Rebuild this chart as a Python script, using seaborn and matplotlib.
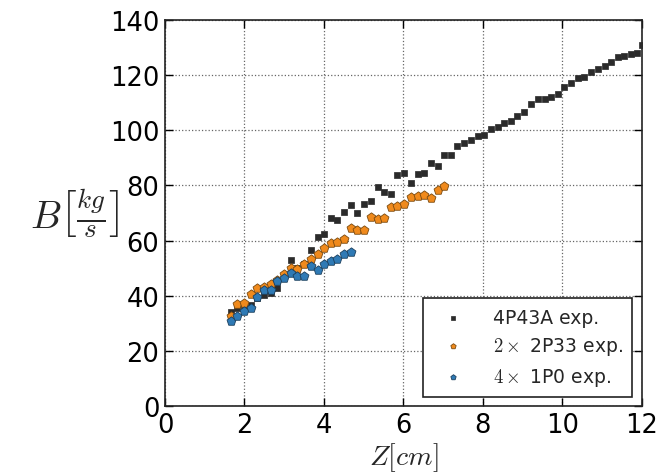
import matplotlib
matplotlib.use("Agg")
import matplotlib.pyplot as plt
import seaborn as sns
import pandas as pd

# ---- data ----
z_4p43a = [1.65, 1.82, 1.99, 2.16, 2.32, 2.49, 2.66, 2.83, 2.99, 3.16, 3.33, 3.50,
           3.67, 3.84, 4.00, 4.17, 4.34, 4.51, 4.67, 4.84, 5.01, 5.18, 5.35, 5.51,
           5.68, 5.85, 6.02, 6.19, 6.36, 6.52, 6.69, 6.86, 7.03, 7.19, 7.36, 7.53,
           7.70, 7.87, 8.03, 8.20, 8.37, 8.54, 8.71, 8.87, 9.04, 9.21, 9.38, 9.55,
           9.71, 9.88, 10.05, 10.22, 10.39, 10.55, 10.72, 10.89, 11.06, 11.23,
           11.39, 11.56, 11.73, 11.88, 12.0]
b_4p43a = [34.0, 35.5, 36.0, 36.5, 39.0, 40.1, 41.0, 42.9, 47.0, 53.0, 50.0, 51.5,
           56.5, 61.3, 62.4, 68.1, 67.4, 70.5, 72.8, 70.0, 73.1, 74.3, 79.6, 77.6,
           76.8, 83.6, 84.6, 81.0, 84.1, 84.6, 88.0, 87.0, 91.2, 91.2, 94.3, 95.3,
           96.3, 97.9, 98.4, 100.4, 101.3, 102.8, 103.5, 105.0, 106.7, 109.6, 111.5,
           111.5, 112.0, 113.0, 115.6, 117.1, 119.0, 119.5, 121.0, 122.2, 123.4,
           124.8, 126.5, 127.0, 127.7, 128.0, 130.9]

z_2p33 = [1.65, 1.82, 1.99, 2.16, 2.32, 2.49, 2.66, 2.83, 2.99, 3.16, 3.33, 3.50,
          3.67, 3.84, 4.00, 4.17, 4.34, 4.51, 4.67, 4.84, 5.01, 5.18, 5.35, 5.51,
          5.68, 5.85, 6.02, 6.19, 6.36, 6.52, 6.69, 6.86, 7.03]
b_2p33 = [32.6, 37.1, 37.3, 40.5, 42.9, 43.2, 44.1, 45.6, 47.8, 49.9, 49.7, 51.4,
          53.3, 55.3, 57.2, 59.2, 59.4, 60.6, 64.5, 64.0, 63.8, 68.6, 67.9, 68.1,
          72.0, 72.5, 73.2, 75.9, 76.1, 76.6, 75.6, 78.5, 79.7]

z_1p0 = [1.65, 1.82, 1.99, 2.16, 2.32, 2.49, 2.66, 2.83, 2.99, 3.16, 3.33, 3.50,
         3.67, 3.84, 4.00, 4.17, 4.34, 4.51, 4.67]
b_1p0 = [31.0, 32.7, 34.4, 35.4, 39.5, 41.9, 41.9, 45.3, 46.3, 48.1, 47.2, 47.3,
         50.9, 49.2, 51.6, 52.6, 53.3, 55.3, 55.7]

labels = ["4P43A exp.", r"$2\times$ 2P33 exp.", r"$4\times$ 1P0 exp."]
x_ticks = [0, 2, 4, 6, 8, 10, 12]
y_ticks = [0, 20, 40, 60, 80, 100, 120, 140]

df = pd.concat([
    pd.DataFrame({"Z": z_4p43a, "B": b_4p43a, "series": labels[0]}),
    pd.DataFrame({"Z": z_2p33, "B": b_2p33, "series": labels[1]}),
    pd.DataFrame({"Z": z_1p0, "B": b_1p0, "series": labels[2]}),
])

sns.set_style("ticks")
plt.rcParams["font.family"] = ["DejaVu Sans"]
plt.rcParams["mathtext.fontset"] = "cm"

fig = plt.figure(figsize=(6.59, 4.77), dpi=100)
ax = fig.add_axes([0.2504, 0.1468, 0.7236, 0.8092])

styles = {
    labels[0]: dict(marker="s", s=16, color="#2b2b2b", edgecolor="#2b2b2b", linewidth=0.5),
    labels[1]: dict(marker="p", s=45, color="#f08a1c", edgecolor="#7a4a10", linewidth=0.6),
    labels[2]: dict(marker="p", s=45, color="#2f7ab5", edgecolor="#1c3f5c", linewidth=0.6),
}
for lab in labels:
    sub = df[df["series"] == lab]
    sns.scatterplot(data=sub, x="Z", y="B", ax=ax, label=lab, zorder=3, **styles[lab])

ax.set_xlim(0, 12)
ax.set_ylim(0, 140)
ax.set_xticks(x_ticks)
ax.set_yticks(y_ticks)
ax.tick_params(direction="in", top=True, right=True, labelsize=18.5, length=6,
               width=1, pad=4, colors="black")
for sp in ax.spines.values():
    sp.set_visible(True)
    sp.set_color("#222222")
    sp.set_linewidth(1.2)
ax.grid(True, linestyle=":", color="#666666", linewidth=0.9)
ax.set_axisbelow(True)

ax.set_xlabel(r"$Z[cm]$", fontsize=20, labelpad=2)
ax.set_ylabel(r"$B\left[\frac{kg}{s}\right]$", fontsize=28, rotation=0,
              va="center", ha="center")
ax.yaxis.set_label_coords(-0.19, 0.5)

leg = ax.legend(loc="lower right", fontsize=13.5, markerscale=0.6, frameon=True,
                fancybox=False, borderpad=0.5, labelspacing=0.45, handletextpad=1.0,
                handlelength=2.2, borderaxespad=0.0,
                bbox_to_anchor=(0.979, 0.023))
leg.get_frame().set_edgecolor("#222222")
leg.get_frame().set_linewidth(1.2)
leg.get_frame().set_alpha(1)

fig.savefig("out.png", dpi=100)
